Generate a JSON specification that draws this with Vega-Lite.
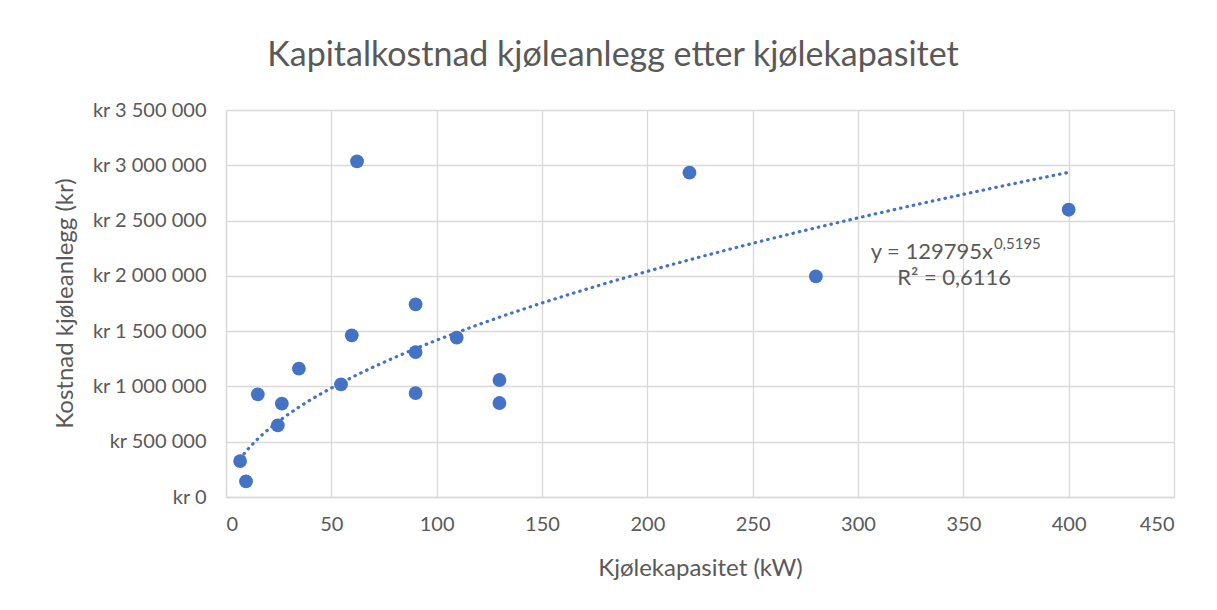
{
  "$schema": "https://vega.github.io/schema/vega-lite/v6.json",
  "autosize": {"type": "none"},
  "padding": {"left": 226, "top": 110, "right": 43, "bottom": 113},
  "width": 948,
  "height": 387,
  "background": "white",
  "config": {
    "font": "Lato",
    "locale": {"number": {"decimal": ",", "thousands": " ", "grouping": [3], "currency": ["kr ", ""]}},
    "view": {"stroke": null},
    "axis": {"gridColor": "#d9d9d9", "gridWidth": 1.3, "domainColor": "#d9d9d9", "domainWidth": 1.3, "ticks": false, "labelColor": "#595959", "titleColor": "#595959", "labelFont": "Lato", "titleFont": "Lato", "titleFontWeight": "normal", "labelFontSize": 20, "titleFontSize": 24}
  },
  "title": {"text": "Kapitalkostnad kjøleanlegg etter kjølekapasitet", "fontSize": 34, "fontWeight": "normal", "color": "#595959", "font": "Lato", "anchor": "middle", "dx": -87, "offset": 27},
  "datasets": {
    "points": [
      {"kW": 6.7, "cost": 325000},
      {"kW": 9.5, "cost": 142000},
      {"kW": 15.1, "cost": 929000},
      {"kW": 24.6, "cost": 648000},
      {"kW": 26.5, "cost": 845000},
      {"kW": 34.6, "cost": 1161000},
      {"kW": 54.6, "cost": 1019000},
      {"kW": 59.7, "cost": 1462000},
      {"kW": 62.2, "cost": 3035000},
      {"kW": 90, "cost": 1742000},
      {"kW": 90, "cost": 1311000},
      {"kW": 90, "cost": 940000},
      {"kW": 109.5, "cost": 1441000},
      {"kW": 129.8, "cost": 1058000},
      {"kW": 129.8, "cost": 850000},
      {"kW": 220, "cost": 2933000},
      {"kW": 280, "cost": 1995000},
      {"kW": 400, "cost": 2598000}
    ],
    "eq": [{"kW": 306, "cost": 2156000, "label": "y = 129795x"}],
    "exp": [{"kW": 364.5, "cost": 2245000, "label": "0,5195"}],
    "r2": [{"kW": 318.6, "cost": 1914000, "label": "R² = 0,6116"}]
  },
  "layer": [
    {
      "data": {"name": "points"},
      "transform": [{"regression": "cost", "on": "kW", "method": "pow"}],
      "mark": {"type": "line", "color": "#4472c4", "strokeWidth": 3.2, "strokeDash": [0.5, 6], "strokeCap": "round"},
      "encoding": {
        "x": {"field": "kW", "type": "quantitative", "scale": {"domain": [0, 450], "nice": false}, "axis": {"title": "Kjølekapasitet (kW)", "values": [0, 50, 100, 150, 200, 250, 300, 350, 400, 450], "labelPadding": 17, "titlePadding": 22}},
        "y": {"field": "cost", "type": "quantitative", "scale": {"domain": [0, 3500000], "nice": false}, "axis": {"title": "Kostnad kjøleanlegg (kr)", "values": [0, 500000, 1000000, 1500000, 2000000, 2500000, 3000000, 3500000], "format": "$,.0f", "labelPadding": 20, "titleX": -161, "titleY": 193, "titleAlign": "center", "titleBaseline": "middle"}}
      }
    },
    {
      "data": {"name": "points"},
      "mark": {"type": "point", "filled": true, "opacity": 1, "size": 190, "color": "#4472c4"},
      "encoding": {
        "x": {"field": "kW", "type": "quantitative"},
        "y": {"field": "cost", "type": "quantitative"}
      }
    },
    {
      "data": {"name": "eq"},
      "mark": {"type": "text", "align": "left", "baseline": "alphabetic", "fontSize": 22, "color": "#595959"},
      "encoding": {"x": {"field": "kW", "type": "quantitative"}, "y": {"field": "cost", "type": "quantitative"}, "text": {"field": "label"}}
    },
    {
      "data": {"name": "exp"},
      "mark": {"type": "text", "align": "left", "baseline": "alphabetic", "fontSize": 15, "color": "#595959"},
      "encoding": {"x": {"field": "kW", "type": "quantitative"}, "y": {"field": "cost", "type": "quantitative"}, "text": {"field": "label"}}
    },
    {
      "data": {"name": "r2"},
      "mark": {"type": "text", "align": "left", "baseline": "alphabetic", "fontSize": 22, "color": "#595959"},
      "encoding": {"x": {"field": "kW", "type": "quantitative"}, "y": {"field": "cost", "type": "quantitative"}, "text": {"field": "label"}}
    }
  ]
}
